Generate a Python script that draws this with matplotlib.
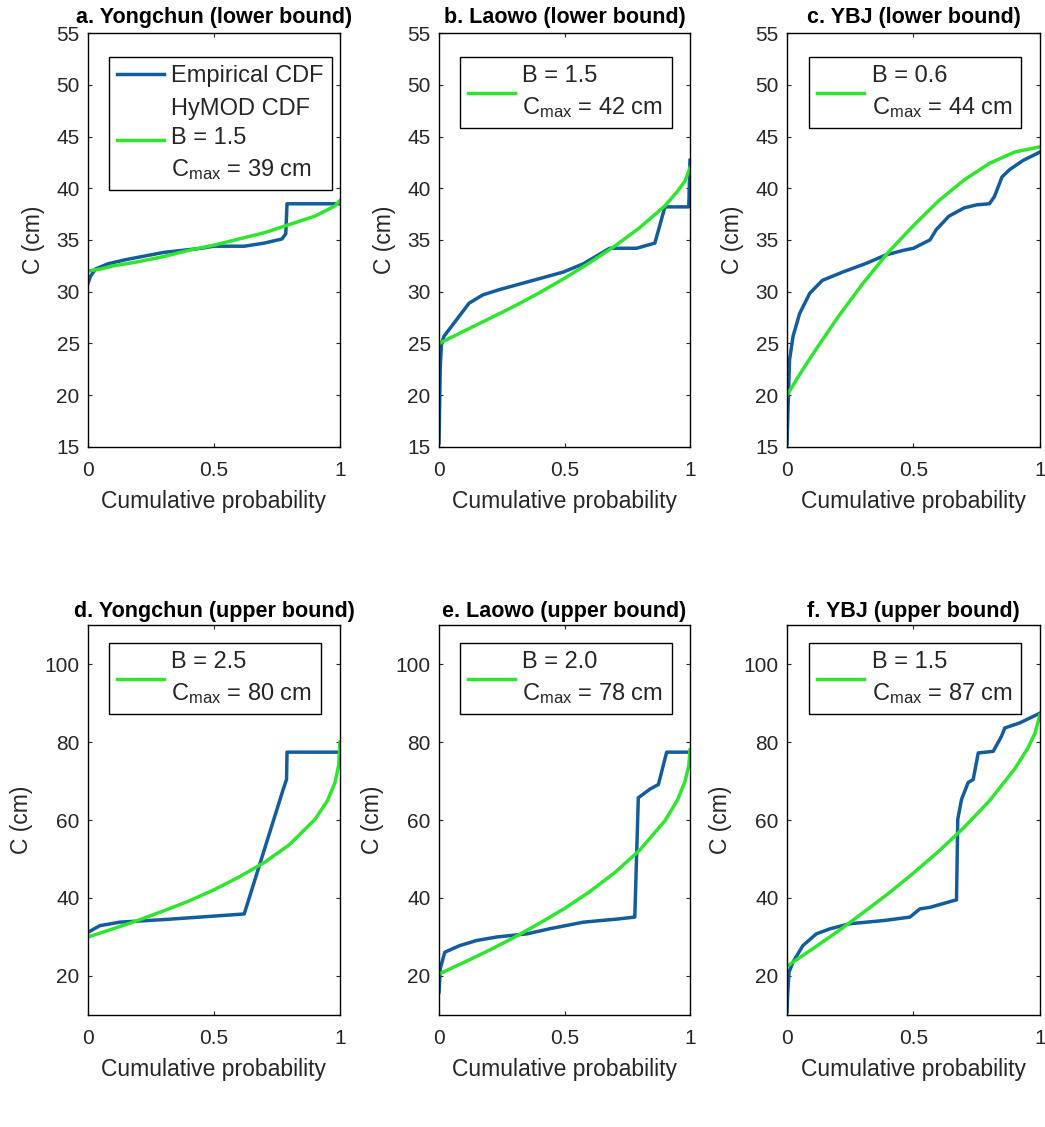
from matplotlib import pyplot as plt

plt.rcParams['font.family'] = ['Liberation Sans', 'DejaVu Sans']
plt.rcParams['mathtext.fontset'] = 'custom'
plt.rcParams['mathtext.rm'] = 'Liberation Sans'
plt.rcParams['mathtext.it'] = 'Liberation Sans'

# ---- data (cumulative probability, C in cm) ----
titles = ["a. Yongchun (lower bound)", "b. Laowo (lower bound)", "c. YBJ (lower bound)",
          "d. Yongchun (upper bound)", "e. Laowo (upper bound)", "f. YBJ (upper bound)"]
fit_labels = ["HyMOD CDF\nB = 1.5\nC$_{\\rm max}$ = 39 cm",
              "B = 1.5\nC$_{\\rm max}$ = 42 cm",
              "B = 0.6\nC$_{\\rm max}$ = 44 cm",
              "B = 2.5\nC$_{\\rm max}$ = 80 cm",
              "B = 2.0\nC$_{\\rm max}$ = 78 cm",
              "B = 1.5\nC$_{\\rm max}$ = 87 cm"]

a_emp_p = [0, 0.01, 0.03, 0.08, 0.15, 0.3, 0.45, 0.5, 0.62, 0.7, 0.77, 0.785, 0.79, 1.0]
a_emp_c = [30.8, 31.5, 32.2, 32.7, 33.1, 33.8, 34.2, 34.4, 34.4, 34.7, 35.1, 35.6, 38.5, 38.5]
a_fit_p = [0, 0.05, 0.1, 0.2, 0.3, 0.4, 0.5, 0.6, 0.7, 0.8, 0.9, 0.95, 0.98, 1.0]
a_fit_c = [32.0, 32.2, 32.5, 32.9, 33.4, 34.0, 34.5, 35.1, 35.7, 36.5, 37.3, 37.9, 38.3, 38.8]

b_emp_p = [0, 0.005, 0.01, 0.02, 0.07, 0.12, 0.175, 0.24, 0.375, 0.495, 0.575, 0.68, 0.787, 0.86, 0.9, 0.995, 1.0]
b_emp_c = [15.4, 22.8, 25.0, 25.7, 27.3, 28.9, 29.7, 30.2, 31.1, 31.9, 32.7, 34.2, 34.2, 34.7, 38.2, 38.2, 42.7]
b_fit_p = [0, 0.05, 0.1, 0.2, 0.3, 0.4, 0.5, 0.6, 0.7, 0.8, 0.9, 0.95, 0.98, 1.0]
b_fit_c = [25.0, 25.6, 26.2, 27.4, 28.6, 29.9, 31.3, 32.8, 34.4, 36.2, 38.3, 39.7, 40.7, 42.0]

c_emp_p = [0, 0.005, 0.01, 0.024, 0.05, 0.09, 0.14, 0.22, 0.314, 0.39, 0.46, 0.5, 0.54, 0.565,
           0.59, 0.64, 0.70, 0.75, 0.80, 0.82, 0.85, 0.88, 0.934, 1.0]
c_emp_c = [15.3, 19.5, 23.4, 25.7, 27.9, 29.85, 31.1, 31.9, 32.75, 33.55, 34.0, 34.2, 34.7, 35.0,
           36.0, 37.3, 38.1, 38.4, 38.5, 39.2, 41.1, 41.8, 42.7, 43.5]
c_fit_p = [0, 0.05, 0.1, 0.2, 0.3, 0.4, 0.5, 0.6, 0.7, 0.8, 0.9, 1.0]
c_fit_c = [20.0, 22.0, 23.9, 27.5, 30.8, 33.8, 36.4, 38.8, 40.8, 42.4, 43.5, 44.0]

d_emp_p = [0, 0.047, 0.126, 0.31, 0.62, 0.775, 0.788, 0.79, 1.0]
d_emp_c = [31.2, 32.9, 33.8, 34.5, 35.9, 67.9, 70.4, 77.4, 77.4]
d_fit_p = [0, 0.1, 0.2, 0.3, 0.4, 0.5, 0.6, 0.7, 0.8, 0.9, 0.95, 0.98, 0.995, 1.0]
d_fit_c = [30.0, 32.1, 34.3, 36.7, 39.2, 42.1, 45.4, 49.1, 53.7, 60.1, 64.9, 69.5, 74.0, 80.0]

e_emp_p = [0, 0.005, 0.023, 0.083, 0.15, 0.23, 0.35, 0.44, 0.575, 0.71, 0.78, 0.794, 0.84, 0.874, 0.907, 1.0]
e_emp_c = [15.9, 21.9, 26.1, 27.8, 29.1, 30.0, 30.8, 32.1, 33.8, 34.6, 35.1, 65.7, 67.9, 69.1, 77.4, 77.4]
e_fit_p = [0, 0.1, 0.2, 0.3, 0.4, 0.5, 0.6, 0.7, 0.8, 0.9, 0.95, 0.98, 0.995, 1.0]
e_fit_c = [20.5, 23.5, 26.6, 29.9, 33.5, 37.3, 41.6, 46.5, 52.3, 59.8, 65.1, 69.9, 73.9, 78.0]

f_emp_p = [0, 0.003, 0.008, 0.024, 0.063, 0.116, 0.17, 0.248, 0.38, 0.486, 0.525, 0.565, 0.657, 0.67,
           0.675, 0.69, 0.716, 0.736, 0.756, 0.815, 0.848, 0.861, 0.92, 1.0]
f_emp_c = [10.8, 15.9, 21.0, 23.6, 27.8, 30.8, 32.1, 33.4, 34.2, 35.1, 37.2, 37.6, 39.3, 39.5,
           60.2, 65.3, 69.6, 70.4, 77.2, 77.6, 81.5, 83.6, 84.9, 87.4]
f_fit_p = [0, 0.1, 0.2, 0.3, 0.4, 0.5, 0.6, 0.7, 0.8, 0.9, 0.95, 0.98, 1.0]
f_fit_c = [22.5, 26.9, 31.4, 36.2, 41.1, 46.4, 52.0, 58.1, 64.9, 73.1, 78.2, 82.2, 87.0]

emp = [(a_emp_p, a_emp_c), (b_emp_p, b_emp_c), (c_emp_p, c_emp_c),
       (d_emp_p, d_emp_c), (e_emp_p, e_emp_c), (f_emp_p, f_emp_c)]
fit = [(a_fit_p, a_fit_c), (b_fit_p, b_fit_c), (c_fit_p, c_fit_c),
       (d_fit_p, d_fit_c), (e_fit_p, e_fit_c), (f_fit_p, f_fit_c)]

upper_ticks = [15, 20, 25, 30, 35, 40, 45, 50, 55]
lower_ticks = [20, 40, 60, 80, 100]
x_ticks = [0, 0.5, 1]

BLUE = '#135c9e'
GREEN = '#2ee62e'
TXT = '#262626'

fig = plt.figure(figsize=(10.45, 11.27), dpi=100)

lefts = [0.0842, 0.4201, 0.7531]
widths = [0.2411, 0.2402, 0.2421]
legend_x = [0.083, 0.083, 0.087]

for i in range(6):
	row, col = divmod(i, 3)
	if row == 0:
		ax = fig.add_axes([lefts[col], 0.6034, widths[col], 0.3673])
	else:
		ax = fig.add_axes([lefts[col], 0.0994, widths[col], 0.3460])

	h_emp, = ax.plot(emp[i][0], emp[i][1], '-', color=BLUE, lw=2.5)
	h_fit, = ax.plot(fit[i][0], fit[i][1], '-', color=GREEN, lw=2.5)

	ax.set_xlim(0, 1)
	ax.set_xticks(x_ticks)
	ax.set_xticklabels(['0', '0.5', '1'])
	if row == 0:
		ax.set_ylim(15, 55)
		ax.set_yticks(upper_ticks)
		ytop = 0.942
	else:
		ax.set_ylim(10, 110)
		ax.set_yticks(lower_ticks)
		ytop = 0.954

	ax.tick_params(direction='in', top=True, right=True, length=3, width=0.8,
				   labelsize=15, colors=TXT, pad=6)
	ax.tick_params(axis='x', pad=10)
	for s in ax.spines.values():
		s.set_linewidth(1.0)
		s.set_color('black')

	ax.set_xlabel("Cumulative probability", fontsize=16.5, color=TXT, labelpad=7)
	ax.set_ylabel("C (cm)", fontsize=16.5, color=TXT, labelpad=8)
	ax.set_title(titles[i], fontsize=15.5, fontweight='bold', pad=7 if row == 0 else 6)

	if i == 0:
		handles, labels = [h_emp, h_fit], ["Empirical CDF", fit_labels[i]]
	else:
		handles, labels = [h_fit], [fit_labels[i]]
	leg = ax.legend(handles, labels, loc='upper left', bbox_to_anchor=(legend_x[col], ytop),
					borderaxespad=0, fontsize=17, frameon=True, fancybox=False, framealpha=1,
					edgecolor='black', handlelength=2.0, handletextpad=0.3, borderpad=0.35,
					labelspacing=0.45)
	leg.get_frame().set_linewidth(1.0)
	for t in leg.get_texts():
		t.set_linespacing(1.42)
		t.set_color(TXT)

plt.savefig('out.png', dpi=100)
